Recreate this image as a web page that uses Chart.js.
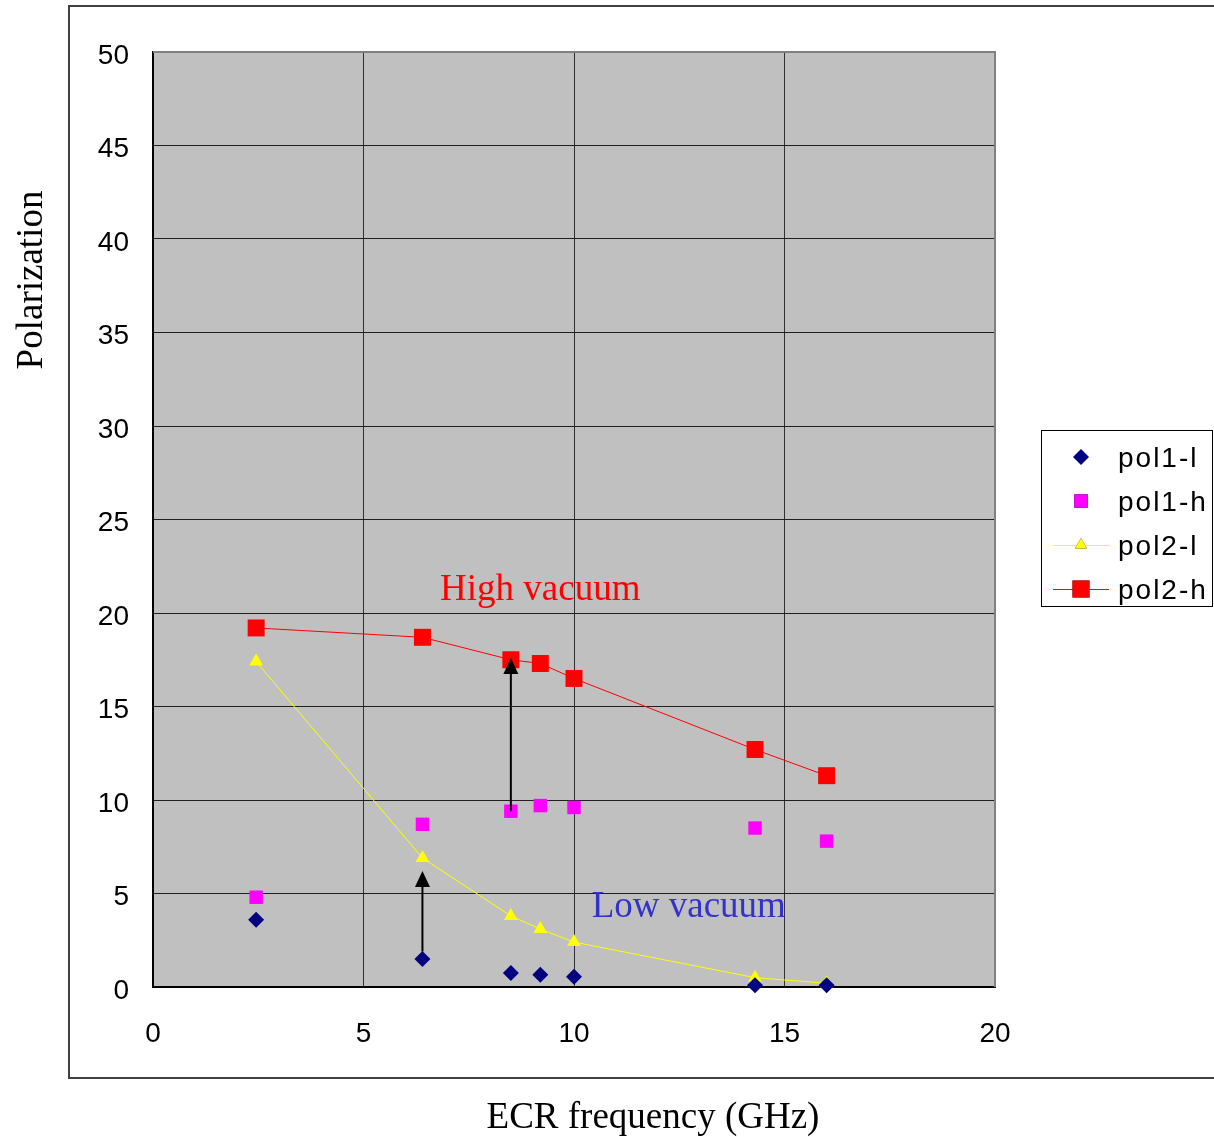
<!DOCTYPE html>
<html>
<head>
<meta charset="utf-8">
<script src="https://cdn.jsdelivr.net/npm/chart.js@4.4.1/dist/chart.umd.min.js"></script>
<style>
  html, body { margin: 0; padding: 0; background: #ffffff; }
  #wrap { width: 1214px; height: 1137px; position: relative; }
</style>
</head>
<body>
<div id="wrap"><canvas id="c" width="1214" height="1137"></canvas></div>
<script>
// ---- data ----
const freq   = [2.45, 6.4, 8.5, 9.2, 10.0, 14.3, 16.0];
const pol1_l = [3.6, 1.5, 0.75, 0.65, 0.55, 0.1, 0.1];
const pol1_h = [4.8, 8.7, 9.4, 9.7, 9.6, 8.5, 7.8];
const pol2_l = [17.4, 6.9, 3.8, 3.1, 2.4, 0.5, 0.2];
const pol2_h = [19.2, 18.7, 17.5, 17.3, 16.5, 12.7, 11.3];
const seriesNames = ['pol1-l', 'pol1-h', 'pol2-l', 'pol2-h'];
const xTicks = [0, 5, 10, 15, 20];
const yTicks = [0, 5, 10, 15, 20, 25, 30, 35, 40, 45, 50];
// arrows: x position, start value, tip value
const arrowX    = [6.4, 8.5];
const arrowFrom = [1.9, 9.4];
const arrowTo   = [6.2, 17.6];
// text labels
const noteText = ['High vacuum', 'Low vacuum'];
const noteX    = [6.82, 10.42];
const noteY    = [21.2, 4.25];
const xTitle = 'ECR frequency (GHz)';
const yTitle = 'Polarization';

function pts(ys) { return freq.map((x, i) => ({ x: x, y: ys[i] })); }

const SANS = '"Liberation Sans", Arial, sans-serif';
const SERIF = '"Liberation Serif", "Times New Roman", serif';

const datasets = [
  { label: seriesNames[0], data: pts(pol1_l), showLine: false, pointStyle: 'rectRot',
    pointRadius: 8, pointHoverRadius: 8, backgroundColor: '#000080', borderColor: '#000080', borderWidth: 0 },
  { label: seriesNames[1], data: pts(pol1_h), showLine: false, pointStyle: 'rect',
    pointRadius: 9.5, pointHoverRadius: 9.5, backgroundColor: '#ff00ff', borderColor: '#ff00ff', borderWidth: 0 },
  { label: seriesNames[2], data: pts(pol2_l), showLine: true, pointStyle: 'triangle',
    pointRadius: 8, pointHoverRadius: 8, backgroundColor: '#ffff00', borderColor: '#ffff00',
    pointBorderWidth: 0, borderWidth: 1 },
  { label: seriesNames[3], data: pts(pol2_h), showLine: true, pointStyle: 'rect',
    pointRadius: 12, pointHoverRadius: 12, backgroundColor: '#ff0000', borderColor: '#ff0000',
    pointBorderWidth: 0, borderWidth: 1 }
];

const deco = {
  id: 'deco',
  beforeDraw(chart) {
    const { ctx, chartArea: a } = chart;
    ctx.save();
    ctx.fillStyle = '#ffffff';
    ctx.fillRect(0, 0, chart.width, chart.height);
    ctx.fillStyle = '#c0c0c0';
    ctx.fillRect(a.left, a.top, a.right - a.left, a.bottom - a.top);
    ctx.restore();
  },
  afterDatasetsDraw(chart) {
    const { ctx, scales: { x, y } } = chart;
    ctx.save();
    ctx.strokeStyle = '#000000';
    ctx.fillStyle = '#000000';
    ctx.lineWidth = 2;
    for (let i = 0; i < arrowX.length; i++) {
      const px = x.getPixelForValue(arrowX[i]);
      const y0 = y.getPixelForValue(arrowFrom[i]);
      const y1 = y.getPixelForValue(arrowTo[i]);
      ctx.beginPath();
      ctx.moveTo(px, y0);
      ctx.lineTo(px, y1 + 10);
      ctx.stroke();
      ctx.beginPath();
      ctx.moveTo(px, y1);
      ctx.lineTo(px - 7.5, y1 + 16);
      ctx.lineTo(px + 7.5, y1 + 16);
      ctx.closePath();
      ctx.fill();
    }
    ctx.restore();
  },
  afterDraw(chart) {
    const { ctx, chartArea: a, scales: { x, y } } = chart;
    ctx.save();
    // top/right plot border (gray)
    ctx.strokeStyle = '#808080';
    ctx.lineWidth = 2;
    ctx.beginPath();
    ctx.moveTo(a.left, a.top);
    ctx.lineTo(a.right, a.top);
    ctx.lineTo(a.right, a.bottom);
    ctx.stroke();
    // annotations
    ctx.font = '37px ' + SERIF;
    ctx.textBaseline = 'middle';
    ctx.textAlign = 'left';
    const noteColors = ['#ff0000', '#3333cc'];
    for (let i = 0; i < noteText.length; i++) {
      ctx.fillStyle = noteColors[i];
      ctx.fillText(noteText[i], x.getPixelForValue(noteX[i]), y.getPixelForValue(noteY[i]));
    }
    // axis titles
    ctx.fillStyle = '#000000';
    ctx.textAlign = 'center';
    ctx.fillText(xTitle, 653, 1118);
    ctx.save();
    ctx.translate(32, 280);
    ctx.rotate(-Math.PI / 2);
    ctx.fillText(yTitle, 0, 0);
    ctx.restore();
    // outer frame
    ctx.strokeStyle = '#404040';
    ctx.lineWidth = 2;
    ctx.beginPath();
    ctx.moveTo(1216, 6);
    ctx.lineTo(69, 6);
    ctx.lineTo(69, 1078);
    ctx.lineTo(1216, 1078);
    ctx.stroke();
    // legend
    ctx.fillStyle = '#ffffff';
    ctx.fillRect(1041, 430, 172, 177);
    ctx.strokeStyle = '#000000';
    ctx.lineWidth = 1;
    ctx.strokeRect(1041.5, 430.5, 171, 176);
    const rowY = [457, 501, 545, 589];
    ctx.font = '28px ' + SANS;
    ctx.textAlign = 'left';
    ctx.textBaseline = 'middle';
    chart.data.datasets.forEach((ds, i) => {
      const cy = rowY[i], cx = 1081;
      if (ds.showLine) {
        ctx.strokeStyle = ds.borderColor;
        ctx.lineWidth = 1;
        ctx.beginPath();
        ctx.moveTo(1053, cy + 0.5);
        ctx.lineTo(1109, cy + 0.5);
        ctx.stroke();
      }
      Chart.helpers.drawPoint(ctx, {
        pointStyle: ds.pointStyle, rotation: 0,
        radius: ds.label === 'pol2-h' ? 12 : (ds.label === 'pol1-h' ? 9.5 : (ds.label === 'pol2-l' ? 7 : 8)), borderWidth: 0
      }, cx, cy);
      ctx.fillStyle = ds.backgroundColor;
      ctx.fill();
      ctx.fillStyle = '#000000';
      ctx.letterSpacing = '2px';
      ctx.fillText(ds.label, 1118, cy + 2);
      ctx.letterSpacing = '0px';
    });
    ctx.restore();
  }
};

new Chart(document.getElementById('c'), {
  type: 'scatter',
  data: { datasets: datasets },
  options: {
    responsive: false,
    animation: false,
    devicePixelRatio: 1,
    layout: { padding: { top: 52, right: 219, left: 0, bottom: 0 } },
    plugins: { legend: { display: false }, tooltip: { enabled: false } },
    elements: { line: { tension: 0 } },
    scales: {
      x: {
        type: 'linear', min: 0, max: 20,
        afterBuildTicks(s) { s.ticks = xTicks.map(v => ({ value: v })); },
        afterFit(s) { s.height = 150; },
        ticks: { font: { size: 28, family: SANS }, color: '#000000', padding: 30 },
        grid: {
          drawTicks: false, lineWidth: 1,
          color: c => (c.tick && c.tick.value === 20) ? '#808080' : '#303030'
        },
        border: { color: '#000000', width: 2 }
      },
      y: {
        type: 'linear', min: 0, max: 50,
        afterBuildTicks(s) { s.ticks = yTicks.map(v => ({ value: v })); },
        afterFit(s) { s.width = 153; },
        ticks: { font: { size: 28, family: SANS }, color: '#000000', padding: 24, labelOffset: 4 },
        grid: {
          drawTicks: false, lineWidth: 1,
          color: c => (c.tick && c.tick.value === 50) ? '#808080' : '#202020'
        },
        border: { color: '#000000', width: 2 }
      }
    },
    clip: false
  },
  plugins: [deco]
});
</script>
</body>
</html>
